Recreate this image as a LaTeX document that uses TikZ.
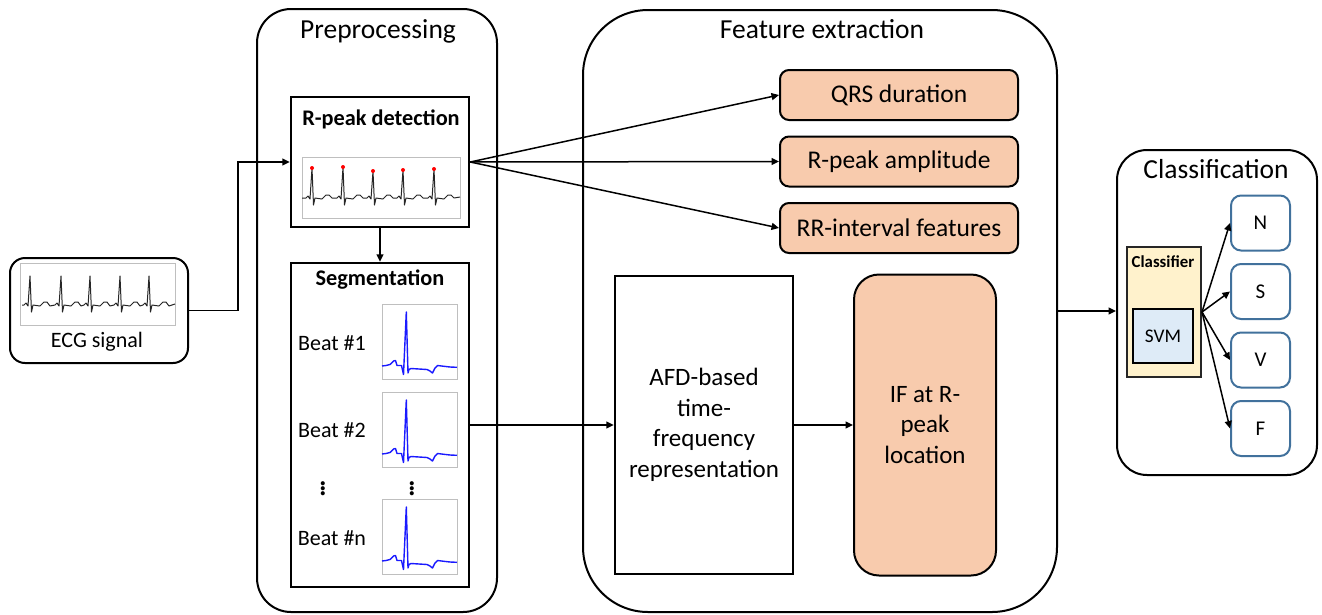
\documentclass[tikz,border=0pt]{standalone}
\usepackage{fontspec}
\setmainfont{Carlito}
\usepackage{xcolor}
\usetikzlibrary{arrows.meta,positioning}
\definecolor{peach}{HTML}{F8CBAD}
\definecolor{clfyellow}{HTML}{FFF2CC}
\definecolor{svmblue}{HTML}{DEEBF7}
\definecolor{classblue}{HTML}{41719C}
\definecolor{framegray}{HTML}{BFBFBF}
\definecolor{beatblue}{HTML}{1A1AFF}

\begin{document}
\begin{tikzpicture}[x=1pt, y=-1pt,
    stage/.style={draw, line width=2pt, inner sep=0pt},
    block/.style={draw, line width=2.5pt, inner sep=0pt},
    feature/.style={draw, line width=2pt, fill=peach, rounded corners=9pt,
                    minimum width=238pt, minimum height=50pt, inner sep=0pt,
                    font=\fontsize{25.5}{30}\selectfont},
    classout/.style={draw=classblue, line width=2pt, rounded corners=10pt,
                     minimum width=59pt, minimum height=55pt, inner sep=0pt,
                     font=\fontsize{21}{25}\selectfont},
    title/.style={font=\fontsize{27.5}{32}\selectfont, inner sep=0pt, anchor=base},
    lbl/.style={font=\fontsize{22}{26}\selectfont, inner sep=0pt, anchor=base},
    boldlbl/.style={font=\fontsize{22.3}{26}\selectfont\bfseries, inner sep=0pt, anchor=base},
    vdotslbl/.style={font=\fontsize{34}{38}\selectfont\boldmath, inner sep=0pt},
    arr/.style={-{Triangle[length=7.5pt,width=7pt]}, line width=1.5pt},
    plotframe/.style={draw=framegray, line width=1pt},
    trace/.style={line width=1pt, black!85, line join=round},
    beatline/.style={line width=1.4pt, beatblue, line join=round},
    pics/beat/.style={code={
        \draw[plotframe] (0,0) rectangle (75,75);
        \draw[beatline] (0,62) -- (4,61.5) -- (8,60.5) -- (11.5,57) -- (13.5,56.5) -- (15,61.5)
            -- (19.5,61.5) -- (21.5,70.5) -- (24.3,8) -- (26,69) -- (27,65.5) -- (29,64.5)
            -- (37,65) -- (45,65.5) -- (48,67) -- (50.5,69) -- (53,64) -- (55.5,61.5)
            -- (62,62.3) -- (68,63) -- (75,63.3);
    }}
]
\useasboundingbox (0,0) rectangle (1322,614);

% stages
\node[stage, rounded corners=34pt, minimum width=240pt, minimum height=603pt] (prep) at (377,310.5) {};
\node[stage, rounded corners=65pt, minimum width=474pt, minimum height=602pt] (feat) at (820,311) {};
\node[stage, rounded corners=30pt, minimum width=200pt, minimum height=325pt] (cls)  at (1217,312.5) {};
\node[title] (preptitle) at (378,38)  {Preprocessing};
\node[title] (feattitle) at (822,38)  {Feature extraction};
\node[title] (clstitle)  at (1216,178) {Classification};

% input
\node[stage, rounded corners=15pt, minimum width=178pt, minimum height=105pt] (ecg) at (99,310.5) {};
\draw[plotframe] (20,263) rectangle (175,325);
\draw[trace] (22,305) foreach \p in {30,61,90,120,149} {
    -- (\p-6,305) -- (\p-4,303) -- (\p-2,306) -- (\p,276) -- (\p+1.5,312) -- (\p+3,305)
    -- (\p+10,306) -- (\p+14,302) -- (\p+17,302) -- (\p+20,306) } -- (175,304);
\node[lbl] (ecglbl) at (97,347) {ECG signal};

% preprocessing
\node[block, minimum width=178pt, minimum height=130pt] (rpeak) at (380,162) {};
\node[boldlbl] (rpeaklbl) at (381,125) {R-peak detection};
\draw[plotframe] (302,157) rectangle (460,218);
\draw[trace] (302,198) foreach \p/\t in {312/168,343/167,373/171,403/170,434/169} {
    -- (\p-6,198) -- (\p-4,196) -- (\p-2,199) -- (\p,\t) -- (\p+1.5,205) -- (\p+3,198)
    -- (\p+10,199) -- (\p+14,195) -- (\p+17,195) -- (\p+20,198) } -- (460,197);
\foreach \p/\t in {312/168,343/167,373/171,403/170,434/169}
    \fill[red] (\p,\t) circle[radius=2pt];

\node[block, minimum width=178pt, minimum height=324pt] (seg) at (380,425) {};
\node[boldlbl] (seglbl) at (380,285) {Segmentation};
\pic at (382,304) {beat};
\pic at (382,392) {beat};
\pic at (382,499) {beat};
\node[lbl] (beat1) at (332,350) {Beat \#1};
\node[lbl] (beat2) at (332,437) {Beat \#2};
\node[lbl] (beatn) at (332,545) {Beat \#n};
\node[vdotslbl] (dotsl) at (323,486) {$\vdots$};
\node[vdotslbl] (dotsr) at (412,486) {$\vdots$};

% feature extraction
\node[feature] (qrs) at (899,95)    {QRS duration};
\node[feature] (amp) at (899,161.5) {R-peak amplitude};
\node[feature] (rr)  at (899,228)   {RR-interval features};
\node[block, minimum width=178pt, minimum height=298pt, align=center,
      font=\fontsize{25}{30.5}\selectfont] (afd) at (704,425)
      {AFD-based\\time-\\frequency\\representation};
\node[draw, line width=2pt, fill=peach, rounded corners=25pt, minimum width=142pt,
      minimum height=301pt, align=center, inner sep=0pt,
      font=\fontsize{25}{30.5}\selectfont] (ifr) at (925,425)
      {IF at R-\\peak\\location};

% classification
\node[draw=black!85, line width=2pt, fill=clfyellow, minimum width=74pt,
      minimum height=130pt, inner sep=0pt] (clf) at (1164,312) {};
\node[font=\fontsize{16.8}{20}\selectfont\bfseries, inner sep=0pt, anchor=base] (clflbl) at (1163,267) {Classifier};
\node[draw, line width=2.5pt, fill=svmblue, minimum width=60pt, minimum height=54pt,
      inner sep=0pt, font=\fontsize{19.3}{23}\selectfont] (svm) at (1163,336) {SVM};
\node[classout] (N) at (1260.5,223)   {N};
\node[classout] (S) at (1260.5,291.5) {S};
\node[classout] (V) at (1260.5,360)   {V};
\node[classout] (F) at (1260.5,428.5) {F};

% connectors
\coordinate (bend) at (238,0);
\draw[arr] (ecg.east) -- (ecg.east -| bend) |- (rpeak.west);
\draw[arr] (rpeak.south) -- (seg.north);
\draw[arr] (rpeak.east) -- (qrs.west);
\draw[arr] (rpeak.east) -- (amp.west);
\draw[arr] (rpeak.east) -- (rr.west);
\draw[arr] (seg.east) -- (afd.west);
\draw[arr] (afd.east) -- (ifr.west);
\draw[arr] (feat.east) -- (feat.east -| cls.west);
\draw[arr] (clf.east) -- (N.west);
\draw[arr] (clf.east) -- (S.west);
\draw[arr] (clf.east) -- (V.west);
\draw[arr] (clf.east) -- (F.west);
\end{tikzpicture}
\end{document}
